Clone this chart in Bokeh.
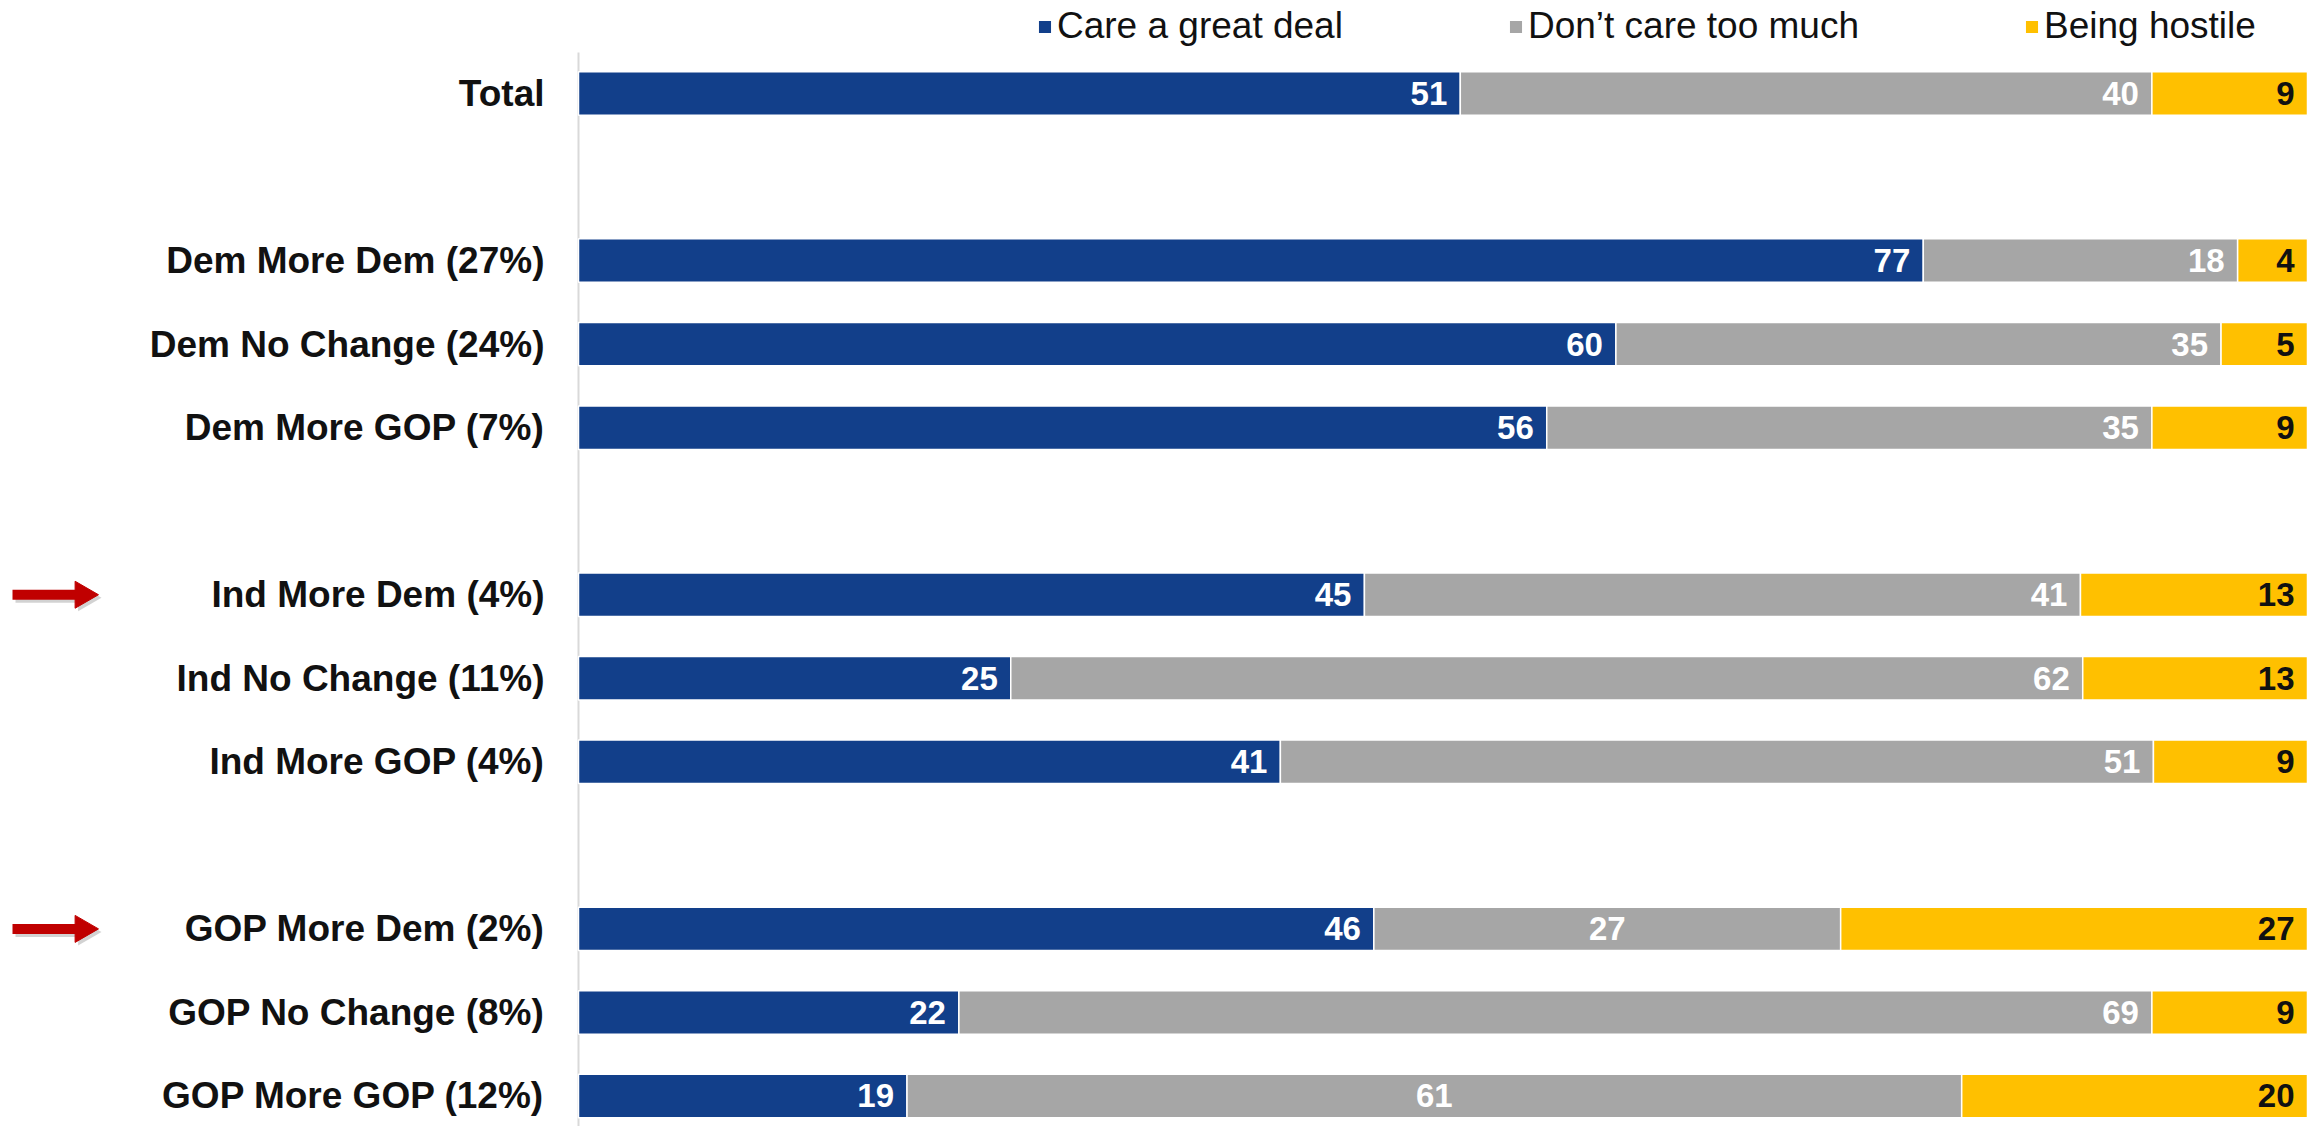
import math
from bokeh.plotting import figure
from bokeh.models import ColumnDataSource, Range1d, Legend, LegendItem
from bokeh.core.properties import value
from bokeh.embed import file_html
from bokeh.resources import INLINE

# ---------------- data ----------------
categories = ["Total",
              "Dem More Dem (27%)", "Dem No Change (24%)", "Dem More GOP (7%)",
              "Ind More Dem (4%)", "Ind No Change (11%)", "Ind More GOP (4%)",
              "GOP More Dem (2%)", "GOP No Change (8%)", "GOP More GOP (12%)"]
group_sizes = [1, 3, 3, 3]
care_great_deal = [51, 77, 60, 56, 45, 25, 41, 46, 22, 19]
dont_care_much = [40, 18, 35, 35, 41, 62, 51, 27, 69, 61]
being_hostile = [9, 4, 5, 9, 13, 13, 9, 27, 9, 20]
series_names = ["Care a great deal", "Don\u2019t care too much", "Being hostile"]
highlighted_rows = ["Ind More Dem (4%)", "GOP More Dem (2%)"]
gray_centered_rows = ["GOP More Dem (2%)", "GOP More GOP (12%)"]

# ---------------- styles / layout ----------------
colors = ["#123F8A", "#A6A6A6", "#FFC000"]
label_colors = ["white", "white", "#111111"]
FONT = "Liberation Sans"
W, H = 2318, 1126
BAR_LEFT_PX, BAR_RIGHT_PX = 578, 2307      # where 0 and 100 fall
SLOT_PX, FIRST_SLOT_PX = 83.54, 93         # row spacing and first row centre
PX_PER_UNIT = (BAR_RIGHT_PX - BAR_LEFT_PX) / 100.0


def xd(px):
    return (px - BAR_LEFT_PX) / PX_PER_UNIT


# slot positions: one empty slot between groups
slots = []
s = 0
for n in group_sizes:
    for _ in range(n):
        slots.append(s)
        s += 1
    s += 1

# 100% stacked
lefts, rights = [[], [], []], [[], [], []]
for a, b, c in zip(care_great_deal, dont_care_much, being_hostile):
    tot = a + b + c
    vals = [a / tot * 100, b / tot * 100, c / tot * 100]
    acc = 0.0
    for k in range(3):
        lefts[k].append(acc)
        acc += vals[k]
        rights[k].append(acc)

y_top = -FIRST_SLOT_PX / SLOT_PX
y_bottom = y_top + H / SLOT_PX
p = figure(width=W, height=H, output_backend="svg", toolbar_location=None,
           x_range=Range1d(xd(0), xd(W)), y_range=Range1d(y_bottom, y_top),
           x_axis_location=None, y_axis_location=None,
           min_border=0, min_border_left=0, min_border_right=0,
           min_border_top=0, min_border_bottom=0,
           background_fill_color="white", border_fill_color="white")
p.outline_line_color = None
p.grid.visible = False

# axis line
p.segment(x0=[0], y0=[slots[0] - 0.49], x1=[0], y1=[y_bottom + 1],
          line_color="#D9D9D9", line_width=2)

series_vals = [care_great_deal, dont_care_much, being_hostile]
renderers = []
for k in range(3):
    src = ColumnDataSource(dict(y=slots, left=lefts[k], right=rights[k]))
    r = p.hbar(y="y", left="left", right="right", height=0.52, source=src,
               fill_color=colors[k], line_color="white", line_width=1.5)
    renderers.append(r)

# data labels
for k in range(3):
    end_x, end_y, end_t = [], [], []
    cen_x, cen_y, cen_t = [], [], []
    for i, cat in enumerate(categories):
        t = str(series_vals[k][i])
        if k == 1 and cat in gray_centered_rows:
            cen_x.append((lefts[k][i] + rights[k][i]) / 2)
            cen_y.append(slots[i])
            cen_t.append(t)
        else:
            end_x.append(rights[k][i])
            end_y.append(slots[i])
            end_t.append(t)
    common = dict(text_font=value(FONT), text_font_style="bold", text_font_size="33px",
                  text_color=label_colors[k], text_baseline="middle")
    p.text(x="x", y="y", text="t", source=ColumnDataSource(dict(x=end_x, y=end_y, t=end_t)),
           text_align="right", x_offset=-13, **common)
    if cen_x:
        p.text(x="x", y="y", text="t", source=ColumnDataSource(dict(x=cen_x, y=cen_y, t=cen_t)),
               text_align="center", **common)

# category labels
p.text(x=[0] * len(categories), y=slots, text=categories, x_offset=-34,
       text_align="right", text_baseline="middle", text_font=value(FONT),
       text_font_style="bold", text_font_size="37px", text_color="#111111")

# red arrows
arrow_y = [slots[categories.index(c)] for c in highlighted_rows]
shadow_dy = 3 / SLOT_PX
p.segment(x0=[xd(15)] * len(arrow_y), y0=[y + shadow_dy for y in arrow_y],
          x1=[xd(82)] * len(arrow_y), y1=[y + shadow_dy for y in arrow_y],
          line_color="#7F7F7F", line_alpha=0.35, line_width=10)
p.scatter(x=[xd(85.4)] * len(arrow_y), y=[y + shadow_dy for y in arrow_y],
          marker="triangle", size=27, angle=-math.pi / 2,
          fill_color="#7F7F7F", fill_alpha=0.35, line_color=None)
p.segment(x0=[xd(12)] * len(arrow_y), y0=arrow_y, x1=[xd(80)] * len(arrow_y), y1=arrow_y,
          line_color="#C00000", line_width=10)
p.scatter(x=[xd(82.4)] * len(arrow_y), y=arrow_y, marker="triangle", size=27,
          angle=-math.pi / 2, fill_color="#C00000", line_color="#C00000", line_width=1)

# legend (inside the full-canvas frame, at the top)
legend = Legend(items=[LegendItem(label=series_names[k], renderers=[renderers[k]]) for k in range(3)],
                orientation="horizontal", location=(1036, H - 47),
                glyph_width=17, glyph_height=17, label_standoff=4, spacing=164,
                label_text_font=FONT, label_text_font_size="37px", label_text_color="#111111",
                padding=0, margin=0, border_line_color=None, background_fill_alpha=0)
p.add_layout(legend, "center")

open("out.html", "w").write(file_html(p, INLINE))
